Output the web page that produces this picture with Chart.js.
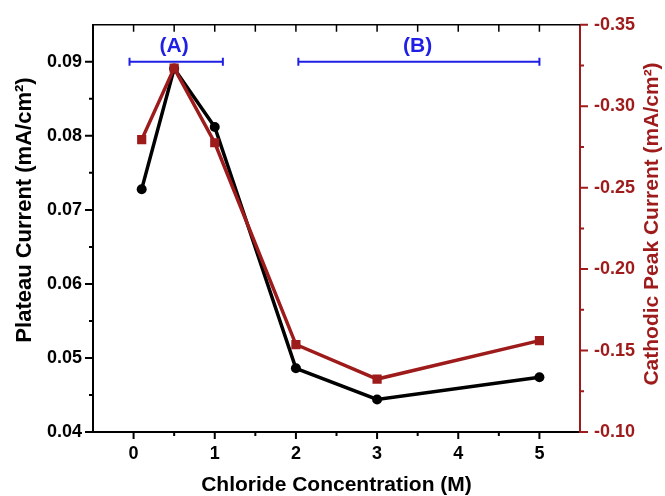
<!DOCTYPE html>
<html>
<head>
<meta charset="utf-8">
<script src="https://cdn.jsdelivr.net/npm/chart.js@4.4.0/dist/chart.umd.min.js"></script>
<style>
body { margin: 0; background: #fff; }
</style>
</head>
<body>
<canvas id="myChart" width="665" height="496"></canvas>
<script>
var concentration = [0.1, 0.5, 1, 2, 3, 5];
var plateauCurrent = [0.0728, 0.0891, 0.0812, 0.0486, 0.0444, 0.0474];
var peakCurrent = [-0.2795, -0.3234, -0.2776, -0.1537, -0.1325, -0.1561];

var xTicks = [0, 1, 2, 3, 4, 5];
var leftTicks = [0.04, 0.05, 0.06, 0.07, 0.08, 0.09];
var rightTicks = [-0.35, -0.30, -0.25, -0.20, -0.15, -0.10];

// concentration ranges marked above the curves
var rangeNames = ["(A)", "(B)"];
var rangeStart = [-0.05, 2.03];
var rangeEnd = [1.1, 5.0];
var rangeLevel = 0.09;
var rangeLabelX = [0.5, 3.5];
var rangeLabelY = 0.0921;

var leftTitle = 'Plateau Current (mA/cm\u00B2)';
var rightTitle = 'Cathodic Peak Current (mA/cm\u00B2)';

var RED = "#9e1b1b";
var BLUE = "#1f1fe6";
var FONT = "'Liberation Sans', Arial, sans-serif";

function rangeData(i) {
    return [{x: rangeStart[i], y: rangeLevel}, {x: rangeEnd[i], y: rangeLevel}];
}

var tickPlugin = {
    id: 'tickMarks',
    afterDraw: function(chart) {
        var ctx = chart.ctx;
        var a = chart.chartArea;
        var x = chart.scales.x, y = chart.scales.y, y2 = chart.scales.y2;
        var i, p;
        ctx.save();
        ctx.lineCap = 'butt';

        // top frame with inward ticks
        ctx.strokeStyle = '#000';
        ctx.lineWidth = 1.5;
        ctx.beginPath();
        ctx.moveTo(a.left, a.top);
        ctx.lineTo(a.right, a.top);
        for (i = 0; i < xTicks.length; i++) {
            p = x.getPixelForValue(xTicks[i]);
            ctx.moveTo(p, a.top); ctx.lineTo(p, a.top + 7);
            if (i < xTicks.length - 1) {
                p = x.getPixelForValue(xTicks[i] + 0.5);
                ctx.moveTo(p, a.top); ctx.lineTo(p, a.top + 7);
            }
        }
        ctx.stroke();

        // bottom ticks
        ctx.lineWidth = 2;
        ctx.beginPath();
        for (i = 0; i < xTicks.length; i++) {
            p = x.getPixelForValue(xTicks[i]);
            ctx.moveTo(p, a.bottom); ctx.lineTo(p, a.bottom + 7);
            if (i < xTicks.length - 1) {
                p = x.getPixelForValue(xTicks[i] + 0.5);
                ctx.moveTo(p, a.bottom); ctx.lineTo(p, a.bottom + 4);
            }
        }
        // left ticks
        for (i = 0; i < leftTicks.length; i++) {
            p = y.getPixelForValue(leftTicks[i]);
            ctx.moveTo(a.left, p); ctx.lineTo(a.left - 8, p);
            if (i < leftTicks.length - 1) {
                p = y.getPixelForValue(leftTicks[i] + 0.005);
                ctx.moveTo(a.left, p); ctx.lineTo(a.left - 4, p);
            }
        }
        ctx.stroke();

        // right ticks
        ctx.strokeStyle = RED;
        ctx.beginPath();
        for (i = 0; i < rightTicks.length; i++) {
            p = y2.getPixelForValue(rightTicks[i]);
            ctx.moveTo(a.right, p); ctx.lineTo(a.right + 8, p);
            if (i < rightTicks.length - 1) {
                p = y2.getPixelForValue(rightTicks[i] + 0.025);
                ctx.moveTo(a.right, p); ctx.lineTo(a.right + 4, p);
            }
        }
        ctx.stroke();

        // range labels
        ctx.fillStyle = BLUE;
        ctx.font = "bold 21px " + FONT;
        ctx.textAlign = 'center';
        ctx.textBaseline = 'middle';
        for (i = 0; i < rangeNames.length; i++) {
            ctx.fillText(rangeNames[i], x.getPixelForValue(rangeLabelX[i]), y.getPixelForValue(rangeLabelY));
        }

        // axis titles, both read bottom to top
        ctx.save();
        ctx.font = "bold 22px " + FONT;
        ctx.translate(25, 210);
        ctx.rotate(-Math.PI / 2);
        ctx.fillStyle = '#000';
        ctx.fillText(leftTitle, 0, 0);
        ctx.restore();

        ctx.save();
        ctx.font = "bold 21px " + FONT;
        ctx.translate(652, 224);
        ctx.rotate(-Math.PI / 2);
        ctx.fillStyle = RED;
        ctx.fillText(rightTitle, 0, 0);
        ctx.restore();

        ctx.restore();
    }
};

window.onload = function() {
    var ctx = document.getElementById('myChart');
    var datasets = [{
        label: 'Plateau',
        data: concentration.map(function(c, i) { return {x: c, y: plateauCurrent[i]}; }),
        yAxisID: 'y',
        borderColor: '#000',
        backgroundColor: '#000',
        borderWidth: 3.5,
        pointStyle: 'circle',
        pointRadius: 5,
        pointBorderWidth: 0,
        order: 2
    }, {
        label: 'Peak',
        data: concentration.map(function(c, i) { return {x: c, y: peakCurrent[i]}; }),
        yAxisID: 'y2',
        borderColor: RED,
        backgroundColor: RED,
        borderWidth: 3.5,
        pointStyle: 'rect',
        pointRadius: 6.5,
        pointBorderWidth: 0,
        order: 1
    }];
    for (var i = 0; i < rangeNames.length; i++) {
        datasets.push({
            label: rangeNames[i],
            data: rangeData(i),
            yAxisID: 'y',
            borderColor: BLUE,
            backgroundColor: BLUE,
            borderWidth: 2,
            pointStyle: 'line',
            rotation: 90,
            pointRadius: 4,
            pointBorderWidth: 2,
            pointBorderColor: BLUE,
            order: 0
        });
    }

    new Chart(ctx, {
        type: 'line',
        data: {datasets: datasets},
        plugins: [tickPlugin],
        options: {
            responsive: false,
            animation: false,
            layout: {padding: {top: 23, left: 0, right: 0, bottom: 0}},
            plugins: {legend: {display: false}, tooltip: {enabled: false}},
            scales: {
                x: {
                    type: 'linear',
                    min: -0.5,
                    max: 5.5,
                    afterBuildTicks: function(s) { s.ticks = xTicks.map(function(v) { return {value: v}; }); },
                    afterFit: function(s) { s.height = 64; },
                    grid: {display: false, drawTicks: false},
                    border: {display: true, color: '#000', width: 2},
                    ticks: {
                        color: '#000', padding: 11, autoSkip: false, maxRotation: 0,
                        font: {family: FONT, size: 18, weight: 'bold'},
                        callback: function(v) { return String(v); }
                    },
                    title: {
                        display: true, text: 'Chloride Concentration (M)', color: '#000',
                        padding: {top: 0, bottom: 0},
                        font: {family: FONT, size: 21, weight: 'bold', lineHeight: 1}
                    }
                },
                y: {
                    type: 'linear',
                    position: 'left',
                    min: 0.04,
                    max: 0.095,
                    afterBuildTicks: function(s) { s.ticks = leftTicks.map(function(v) { return {value: v}; }); },
                    afterFit: function(s) { s.width = 93; },
                    grid: {display: false, drawTicks: false},
                    border: {display: true, color: '#000', width: 2},
                    ticks: {
                        color: '#000', padding: 11,
                        font: {family: FONT, size: 18, weight: 'bold'},
                        callback: function(v) { return v.toFixed(2); }
                    }
                },
                y2: {
                    type: 'linear',
                    position: 'right',
                    min: -0.35,
                    max: -0.10,
                    reverse: true,
                    afterBuildTicks: function(s) { s.ticks = rightTicks.map(function(v) { return {value: v}; }); },
                    afterFit: function(s) { s.width = 85; },
                    grid: {display: false, drawTicks: false},
                    border: {display: true, color: RED, width: 2},
                    ticks: {
                        color: RED, padding: 14,
                        font: {family: FONT, size: 18, weight: 'bold'},
                        callback: function(v) { return v.toFixed(2); }
                    }
                }
            }
        }
    });
};
</script>
</body>
</html>
